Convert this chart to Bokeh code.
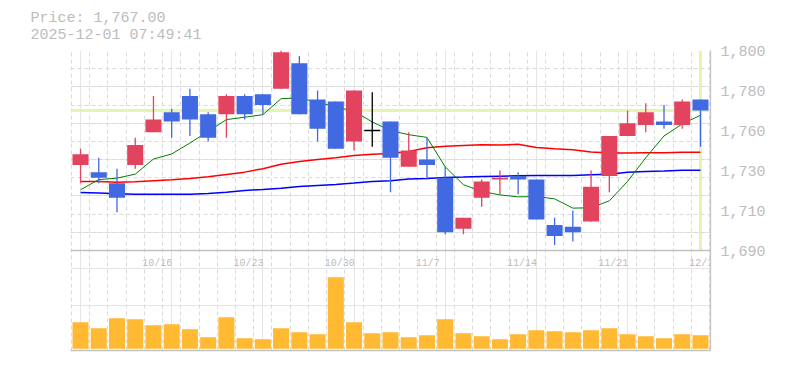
from bokeh.plotting import figure
from bokeh.models import FixedTicker, Span, Title, LinearAxis, Range1d, ColumnDataSource, Grid
from bokeh.embed import file_html
from bokeh.resources import INLINE
from bokeh.core.properties import value

# ---------------- data ----------------
dates = ["10/9", "10/10", "10/14", "10/15", "10/16", "10/17", "10/20", "10/21", "10/22",
         "10/23", "10/24", "10/27", "10/28", "10/29", "10/30", "10/31", "11/4", "11/5",
         "11/6", "11/7", "11/10", "11/11", "11/12", "11/13", "11/14", "11/17", "11/18",
         "11/19", "11/20", "11/21", "11/25", "11/26", "11/27", "11/28", "12/1"]
opens = [1737, 1733, 1727, 1737, 1755, 1766, 1775, 1765, 1765, 1775, 1776, 1779, 1793, 1773,
         1772, 1750, 1756, 1761, 1736, 1740, 1730, 1702, 1719, 1729, 1731, 1729, 1704, 1703,
         1706, 1731, 1753, 1759, 1761, 1759, 1773]
highs = [1746, 1741, 1735, 1752, 1775, 1768, 1779, 1766, 1776, 1776, 1776, 1800, 1797, 1778,
         1772, 1778, 1777, 1761, 1755, 1752, 1736, 1708, 1729, 1734, 1733, 1729, 1708, 1712,
         1734, 1753, 1767, 1771, 1770, 1773, 1773]
lows = [1727, 1727, 1711, 1735, 1755, 1752, 1753, 1750, 1752, 1762, 1765, 1779, 1765, 1750,
        1746, 1745, 1747, 1722, 1736, 1729, 1699, 1699, 1714, 1721, 1721, 1707, 1693, 1695,
        1706, 1722, 1753, 1755, 1757, 1757, 1747]
closes = [1743, 1730, 1719, 1748, 1762, 1761, 1762, 1752, 1775, 1765, 1770, 1799, 1765, 1757,
          1746, 1778, 1756, 1741, 1745, 1737, 1700, 1708, 1728, 1730, 1729, 1707, 1698, 1700,
          1725, 1753, 1760, 1766, 1759, 1772, 1767]
ma_short = [1723.4, 1729.0, 1729.8, 1732.0, 1740.3, 1743.1, 1749.1, 1755.5, 1762.0, 1763.3,
            1764.7, 1773.5, 1773.9, 1771.5, 1769.0, 1766.6, 1760.7, 1755.9, 1753.7, 1752.2,
            1736.0, 1726.2, 1722.5, 1720.6, 1719.5, 1719.7, 1718.4, 1713.3, 1713.5, 1717.3,
            1728.0, 1741.0, 1753.0, 1759.6, 1764.4]
ma_mid = [1728.0, 1728.0, 1727.6, 1727.8, 1728.4, 1728.9, 1729.6, 1730.6, 1731.8, 1733.1,
          1735.0, 1737.4, 1739.0, 1740.1, 1741.0, 1742.3, 1742.9, 1743.4, 1744.5, 1746.5,
          1747.3, 1747.8, 1748.2, 1748.0, 1748.4, 1746.7, 1746.0, 1745.4, 1744.2, 1743.6,
          1743.6, 1743.8, 1743.8, 1744.0, 1744.0]
ma_long = [1721.9, 1721.6, 1721.2, 1721.0, 1721.0, 1721.0, 1721.0, 1721.4, 1722.1, 1723.0,
           1723.6, 1724.3, 1725.2, 1725.8, 1726.3, 1727.1, 1728.0, 1728.4, 1729.3, 1729.6,
           1730.2, 1730.4, 1730.7, 1730.9, 1731.1, 1731.3, 1731.3, 1731.3, 1731.7, 1732.0,
           1733.1, 1733.5, 1733.7, 1734.1, 1734.1]
volumes = [53, 41, 61, 59, 47, 49, 39, 23, 63, 21, 19, 41, 33, 29, 143, 53, 31, 33, 23, 27,
           59, 31, 25, 19, 29, 37, 35, 33, 37, 41, 29, 25, 21, 29, 27]
tick_labels = ["10/16", "10/23", "10/30", "11/7", "11/14", "11/21", "12/1"]
y_tick_values = [1690, 1712, 1734, 1756, 1778, 1800]
y_tick_labels = ["1,690", "1,710", "1,730", "1,760", "1,780", "1,800"]
timestamp = "2025-12-01 07:49:41"

# ---------------- style ----------------
FONT = "Liberation Mono"
GRID = "#dadada"
AXIS = "#c2c2c2"
TEXT = "#bcbcbc"
UP = "#e2435f"
DOWN = "#4169e1"
FLAT = "#000000"
VOL = "#ffb933"
CROSS = "#e3f6ae"
BODY_W = 0.88

W_FRAME, H_FRAME = 640, 300
B_LEFT, B_TOP, B_RIGHT, B_BOTTOM = 70, 50, 60, 20

n = len(dates)
idx = list(range(n))
P_LO, P_HI = 1690, 1800
# price panel occupies the upper 2/3 of the frame, volume the lower 1/3
price_range = Range1d(P_LO - (P_HI - P_LO) / 2, P_HI)
vol_range = Range1d(-3.6, 596.4)
x_range = Range1d(-0.55, n - 0.45)
boundaries = [i - 0.5 for i in range(n + 1)]

p = figure(frame_width=W_FRAME, frame_height=H_FRAME, x_range=x_range, y_range=price_range,
           output_backend="svg", toolbar_location=None, title=None,
           x_axis_location=None, y_axis_location=None,
           min_border_left=B_LEFT, min_border_top=B_TOP, min_border_bottom=B_BOTTOM,
           min_border_right=B_RIGHT)
p.extra_y_ranges = {"vol": vol_range}
p.outline_line_color = None

p.add_layout(Grid(dimension=1, ticker=FixedTicker(ticks=list(range(P_LO, P_HI + 1, 10))),
                  grid_line_color=GRID, grid_line_dash="4 3", grid_line_width=1))
p.add_layout(Grid(dimension=0, ticker=FixedTicker(ticks=boundaries),
                  grid_line_color=GRID, grid_line_dash="4 3", grid_line_width=1))

yax = LinearAxis(ticker=FixedTicker(ticks=y_tick_values),
                 major_label_overrides=dict(zip(y_tick_values, y_tick_labels)),
                 axis_line_color=AXIS, axis_line_width=1.3,
                 major_tick_line_color=None, minor_tick_line_color=None,
                 major_tick_out=0, minor_tick_out=0, major_label_standoff=10,
                 major_label_text_font=FONT, major_label_text_font_size="15px",
                 major_label_text_color=TEXT)
p.add_layout(yax, "right")
p.add_layout(LinearAxis(ticker=FixedTicker(ticks=[]), axis_line_color=AXIS, axis_line_width=1.3,
                        major_tick_line_color=None, minor_tick_line_color=None,
                        major_tick_out=0, minor_tick_out=0, major_label_standoff=0,
                        major_label_text_font_size="0px"), "below")

# panel separator
p.add_layout(Span(location=P_LO, dimension="width", line_color=AXIS, line_width=1.3))

# last price cross-hair
p.add_layout(Span(location=closes[-1], dimension="width", line_color=CROSS, line_width=3,
                  level="underlay"))
p.segment(x0=[idx[-1]], y0=[P_LO], x1=[idx[-1]], y1=[P_HI], line_color=CROSS, line_width=3,
          level="underlay")

# moving averages
p.line(idx, ma_long, line_color="#0000ff", line_width=1.5)
p.line(idx, ma_mid, line_color="#ff0000", line_width=1.5)
p.line(idx, ma_short, line_color="#008000", line_width=1)


def subset(cond):
    sel = [i for i in idx if cond(i)]
    return ColumnDataSource(dict(
        x=sel,
        high=[highs[i] for i in sel], low=[lows[i] for i in sel],
        top=[max(opens[i], closes[i]) for i in sel],
        bottom=[min(opens[i], closes[i]) for i in sel]))


for cond, col in [(lambda i: closes[i] > opens[i], UP), (lambda i: closes[i] < opens[i], DOWN)]:
    src = subset(cond)
    p.segment(x0="x", y0="low", x1="x", y1="high", source=src, line_color=col, line_width=1.3)
    p.vbar(x="x", width=BODY_W, top="top", bottom="bottom", source=src,
           fill_color=col, line_color=None)

flat = subset(lambda i: closes[i] == opens[i])
p.segment(x0="x", y0="low", x1="x", y1="high", source=flat, line_color=FLAT, line_width=1.3)
p.vbar(x="x", width=BODY_W, top="top", bottom="bottom", source=flat,
       fill_color=None, line_color=FLAT, line_width=1.3)

# volume
p.vbar(x=idx, width=BODY_W, top=volumes, bottom=0, fill_color=VOL, line_color=None,
       y_range_name="vol")

# date labels inside the volume panel
tick_pos = [dates.index(t) - 0.5 for t in tick_labels]
p.text(x=tick_pos, y=[P_LO] * len(tick_pos), text=tick_labels,
       text_font=value(FONT), text_font_size="10px", text_color=TEXT,
       text_align="left", text_baseline="top", x_offset=-2, y_offset=7)

# header texts
header = "Price: {:,.2f}\n{}".format(closes[-1], timestamp)
p.add_layout(Title(text=header, align="left", offset=-40, standoff=14,
                   text_font=FONT, text_font_size="15px", text_font_style="normal",
                   text_color=TEXT, text_line_height=1.0, vertical_align="bottom"), "above")

open("out.html", "w").write(file_html(p, INLINE))
